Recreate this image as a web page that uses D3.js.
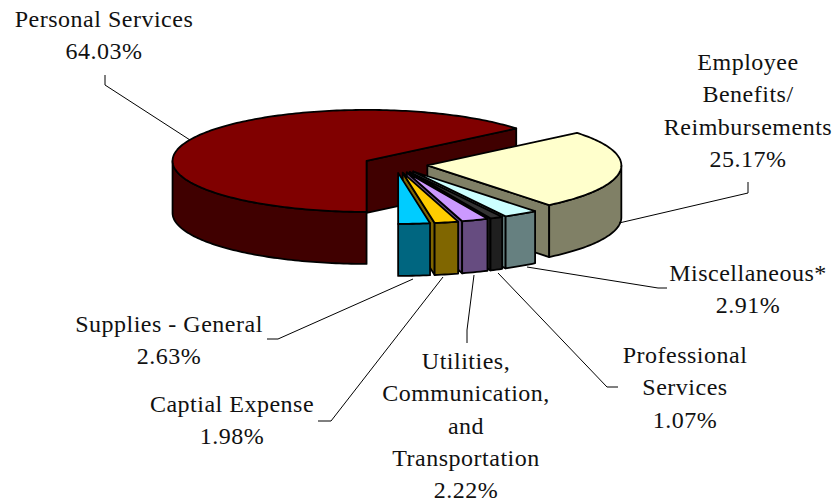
<!DOCTYPE html>
<html>
<head>
<meta charset="utf-8">
<script src="https://cdnjs.cloudflare.com/ajax/libs/d3/7.8.5/d3.min.js"></script>
<style>
body { margin: 0; background: #fff; }
text { font-family: "Liberation Serif", serif; font-size: 24px; letter-spacing: 0.5px; fill: #111; text-anchor: middle; }
</style>
</head>
<body>
<div id="chart"></div>
<script>
// Slices in drawing order, clockwise from the front of the pie
var categories = ["Personal Services", "Employee Benefits/ Reimbursements", "Miscellaneous*",
    "Professional Services", "Utilities, Communication, and Transportation", "Captial Expense", "Supplies - General"];
var shares = [64.03, 25.17, 2.91, 1.07, 2.22, 1.98, 2.63];
var topColors = ["#800000", "#ffffcc", "#ccffff", "#333333", "#cc99ff", "#ffcc00", "#00ccff"];
var sideColors = ["#400000", "#808066", "#668080", "#1f1f1f", "#664c80", "#806600", "#006680"];

// Label text, split by line
var labelLines = [
    ["Personal Services", "64.03%"],
    ["Employee", "Benefits/", "Reimbursements", "25.17%"],
    ["Miscellaneous*", "2.91%"],
    ["Professional", "Services", "1.07%"],
    ["Utilities,", "Communication,", "and", "Transportation", "2.22%"],
    ["Captial Expense", "1.98%"],
    ["Supplies - General", "2.63%"]
];
var labelX = [104, 748, 748, 685, 466, 232, 169];
var labelY = [27, 70, 281, 363, 369, 412, 332];
var leaders = [
    [[105, 75], [105, 85], [190, 140]],
    [[619, 223], [748, 193], [748, 182]],
    [[527, 267], [658, 288], [667, 288]],
    [[498, 273], [607, 387], [618, 387]],
    [[474, 275], [467, 330], [467, 343]],
    [[443, 277], [331, 421], [318, 421]],
    [[413, 279], [278, 339], [267, 339]]
];

var width = 835, height = 504;
var cx = 395.5, cy = 164.5;   // pie centre before explosion
var rx = 194, ry = 51, depth = 52, explode = 32;
var lineGap = 32.3;

var svg = d3.select("#chart")
    .append("svg")
    .attr("width", width)
    .attr("height", height);

var pie = d3.pie()
    .sort(null)
    .startAngle(Math.PI)
    .endAngle(3 * Math.PI);

var outline = d3.line().x(function (d) { return d[0]; }).y(function (d) { return d[1]; });

// Angle is clockwise from the top, as in d3.pie
function rimPoint(c, a, drop) {
    return [c[0] + rx * Math.sin(a), c[1] - ry * Math.cos(a) + (drop || 0)];
}

function rimPoints(c, a0, a1, drop) {
    var n = Math.max(2, Math.ceil((a1 - a0) / 0.02));
    return d3.range(n + 1).map(function (i) {
        return rimPoint(c, a0 + (a1 - a0) * i / n, drop);
    });
}

function cutFace(c, a) {
    return [c, rimPoint(c, a), rimPoint(c, a, depth), [c[0], c[1] + depth]];
}

var slices = svg.selectAll("g.slice")
    .data(pie(shares))
    .enter()
    .append("g")
    .attr("class", "slice")
    .attr("stroke", "#000")
    .attr("stroke-width", 1.8)
    .attr("stroke-linejoin", "round");

slices.each(function (d, i) {
    var g = d3.select(this);
    var mid = (d.startAngle + d.endAngle) / 2;
    var c = [cx + explode * Math.sin(mid), cy - explode * ry / rx * Math.cos(mid)];

    // face on the clockwise end, only if it looks toward the viewer
    if (Math.sin(d.endAngle) > 0.001) {
        g.append("path").attr("fill", sideColors[i]).attr("d", outline(cutFace(c, d.endAngle)) + "Z");
    }

    // outer wall: the part of the rim on the front half
    [0, 2].forEach(function (k) {
        var a0 = Math.max(d.startAngle, Math.PI / 2 + k * Math.PI);
        var a1 = Math.min(d.endAngle, 3 * Math.PI / 2 + k * Math.PI);
        if (a1 <= a0) return;
        var wall = rimPoints(c, a0, a1, 0).concat(rimPoints(c, a0, a1, depth).reverse());
        g.append("path").attr("fill", sideColors[i]).attr("d", outline(wall) + "Z");
    });

    var top = [c].concat(rimPoints(c, d.startAngle, d.endAngle, 0));
    g.append("path").attr("fill", topColors[i]).attr("d", outline(top) + "Z");
});

svg.selectAll("path.leader")
    .data(leaders)
    .enter()
    .append("path")
    .attr("class", "leader")
    .attr("fill", "none")
    .attr("stroke", "#000")
    .attr("stroke-width", 1)
    .attr("d", outline);

var labels = svg.selectAll("text.label")
    .data(labelLines)
    .enter()
    .append("text")
    .attr("class", "label")
    .attr("x", function (d, i) { return labelX[i]; })
    .attr("y", function (d, i) { return labelY[i]; });

labels.selectAll("tspan")
    .data(function (d, i) {
        return d.map(function (t) { return { text: t, x: labelX[i] }; });
    })
    .enter()
    .append("tspan")
    .attr("x", function (d) { return d.x; })
    .attr("dy", function (d, i) { return i ? lineGap : 0; })
    .text(function (d) { return d.text; });
</script>
</body>
</html>
